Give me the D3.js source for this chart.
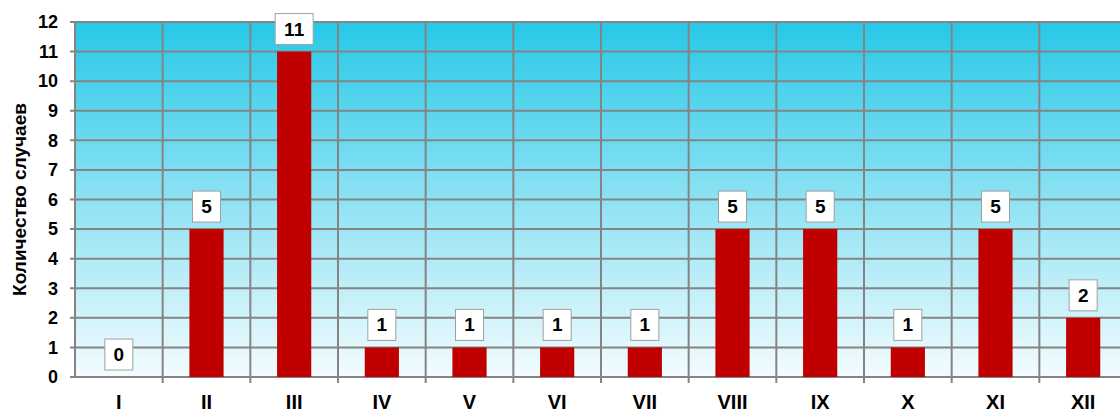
<!DOCTYPE html>
<html>
<head>
<meta charset="utf-8">
<script src="https://cdn.jsdelivr.net/npm/d3@7"></script>
<style>
  body { margin: 0; background: #fff; }
  svg { display: block; font-family: "Liberation Sans", Arial, sans-serif; }
</style>
</head>
<body>
<script>
const months = ['I', 'II', 'III', 'IV', 'V', 'VI', 'VII', 'VIII', 'IX', 'X', 'XI', 'XII']
const cases = [0, 5, 11, 1, 1, 1, 1, 5, 5, 1, 5, 2]
const yTicks = [0, 1, 2, 3, 4, 5, 6, 7, 8, 9, 10, 11, 12]
const yTitle = 'Количество случаев'

const width = 1120, height = 412
const margin = { top: 22, right: -7, bottom: 35, left: 75 }

const svg = d3.select('body').append('svg')
  .attr('width', width)
  .attr('height', height)

const x = d3.scaleBand()
  .domain(months)
  .range([margin.left, width - margin.right])

const y = d3.scaleLinear()
  .domain([0, 12])
  .range([height - margin.bottom, margin.top])

// background gradient
const grad = svg.append('defs').append('linearGradient')
  .attr('id', 'bg').attr('x1', 0).attr('y1', 0).attr('x2', 0).attr('y2', 1)
grad.append('stop').attr('offset', '0%').attr('stop-color', '#27c8e8')
grad.append('stop').attr('offset', '100%').attr('stop-color', '#f4fcfe')

svg.append('rect')
  .attr('x', margin.left)
  .attr('y', y(12))
  .attr('width', x.range()[1] - margin.left)
  .attr('height', y(0) - y(12))
  .attr('fill', 'url(#bg)')

// grid
svg.append('g')
  .attr('stroke', '#848484')
  .attr('stroke-width', 2)
  .selectAll('line')
  .data(yTicks)
  .join('line')
    .attr('x1', margin.left - 5)
    .attr('x2', width)
    .attr('y1', d => y(d))
    .attr('y2', d => y(d))

svg.append('g')
  .attr('stroke', '#848484')
  .attr('stroke-width', 2)
  .selectAll('line')
  .data(months)
  .join('line')
    .attr('x1', d => x(d))
    .attr('x2', d => x(d))
    .attr('y1', y(12))
    .attr('y2', d => y(0) + (d === 'I' ? 0 : 6))

// bars
const barW = x.bandwidth() * 0.39
svg.append('g')
  .attr('fill', '#c00000')
  .selectAll('rect')
  .data(months)
  .join('rect')
    .attr('x', d => x(d) + (x.bandwidth() - barW) / 2)
    .attr('y', (d, i) => y(cases[i]))
    .attr('width', barW)
    .attr('height', (d, i) => y(0) - y(cases[i]))

// value labels
const labels = svg.append('g')
  .selectAll('g')
  .data(months)
  .join('g')
    .attr('transform', (d, i) => `translate(${x(d) + x.bandwidth() / 2},${y(cases[i]) - 7})`)
labels.append('rect')
  .attr('x', (d, i) => cases[i] > 9 ? -19 : -14)
  .attr('y', -31)
  .attr('width', (d, i) => cases[i] > 9 ? 38 : 28)
  .attr('height', 31)
  .attr('fill', '#fff')
  .attr('stroke', '#a0a0a0')
  .attr('stroke-width', 1)
labels.append('text')
  .attr('text-anchor', 'middle')
  .attr('y', -9)
  .attr('font-size', 19)
  .attr('font-weight', 'bold')
  .text((d, i) => cases[i])

// y axis
svg.append('g')
  .attr('transform', `translate(${margin.left},0)`)
  .call(d3.axisLeft(y).tickValues(yTicks).tickSize(0).tickPadding(17))
  .call(g => g.select('.domain').remove())
  .call(g => g.selectAll('text')
    .attr('font-size', 18)
    .attr('font-weight', 'bold')
    .attr('fill', '#000')
    .attr('font-family', '"Liberation Sans", Arial, sans-serif'))

svg.append('line')
  .attr('x1', margin.left).attr('x2', margin.left)
  .attr('y1', y(12) - 1).attr('y2', y(0) + 1)
  .attr('stroke', '#848484').attr('stroke-width', 2)

// x axis
svg.append('g')
  .attr('transform', `translate(0,${y(0)})`)
  .call(d3.axisBottom(x).tickSize(0).tickPadding(18))
  .call(g => g.select('.domain').remove())
  .call(g => g.selectAll('text')
    .attr('font-size', 20)
    .attr('font-weight', 'bold')
    .attr('fill', '#000')
    .attr('font-family', '"Liberation Sans", Arial, sans-serif'))

svg.append('text')
  .attr('transform', `translate(26,${(y(0) + y(12)) / 2}) rotate(-90)`)
  .attr('text-anchor', 'middle')
  .attr('font-size', 19)
  .attr('font-weight', 'bold')
  .text(yTitle)
</script>
</body>
</html>
